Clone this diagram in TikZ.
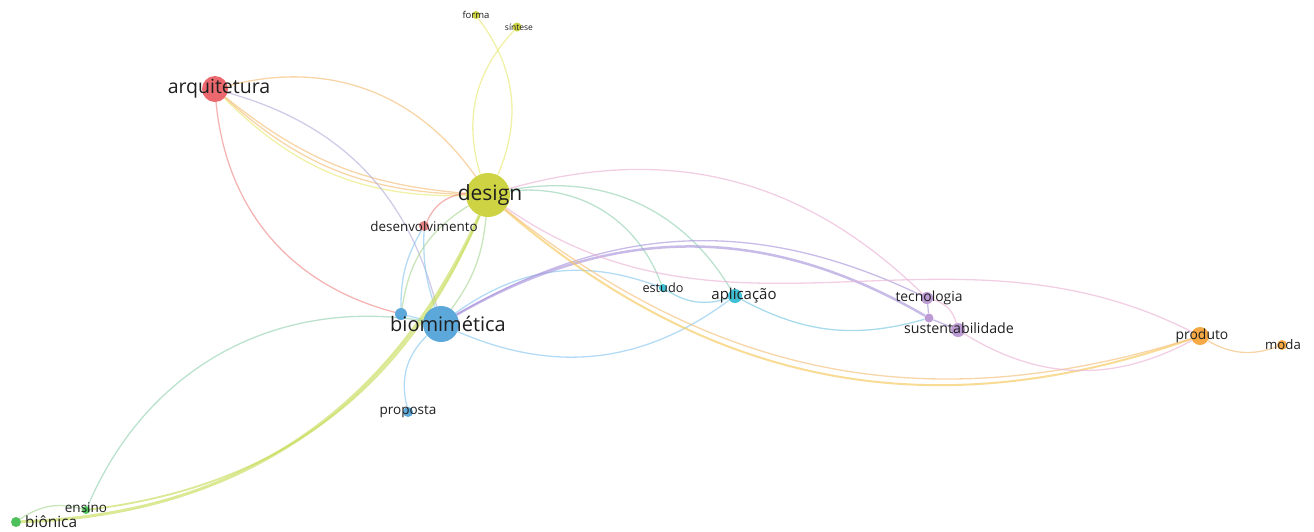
\documentclass[tikz,border=0pt]{standalone}
\usepackage{fontspec}
\setmainfont{Open Sans}
\usetikzlibrary{backgrounds}

\definecolor{cdesign}{RGB}{200,206,45}
\definecolor{carq}{RGB}{232,88,94}
\definecolor{cbio}{RGB}{74,158,214}
\definecolor{capl}{RGB}{42,184,207}
\definecolor{ctec}{RGB}{181,143,207}
\definecolor{cprod}{RGB}{245,160,48}
\definecolor{cbion}{RGB}{60,186,74}
\definecolor{cdes}{RGB}{226,120,120}
% edge colours
\definecolor{cyel}{RGB}{232,232,120}
\definecolor{corg}{RGB}{245,190,120}
\definecolor{cred}{RGB}{240,140,140}
\definecolor{clav}{RGB}{185,175,220}
\definecolor{cblue}{RGB}{140,200,240}
\definecolor{cgreen}{RGB}{170,215,150}
\definecolor{cyg}{RGB}{200,220,90}
\definecolor{ccyan}{RGB}{120,200,225}
\definecolor{cteal}{RGB}{150,210,180}
\definecolor{cpurp}{RGB}{170,150,220}
\definecolor{cpink}{RGB}{235,180,215}
\definecolor{cyo}{RGB}{245,200,90}

\tikzset{
	kw/.style={circle, inner sep=0pt, minimum size=#1, fill opacity=0.9, draw=none},
	lbl/.style={font=\fontsize{#1}{#1}\selectfont, text=black!88, inner sep=0pt},
	edge/.style={line width=1.3pt, draw opacity=0.65},
}

\begin{document}
\begin{tikzpicture}[x=1pt, y=1pt]
			%%%%% START %%%%%
			\useasboundingbox (0,0) rectangle (1314,-531);
			
			\node[kw=44pt, fill=cdesign] (design) at (488,-195) {};
			\node[kw=8pt, fill=cdesign] (forma) at (476,-15) {};
			\node[kw=9pt, fill=cdesign] (sintese) at (517,-27) {};
			
			\node[kw=26pt, fill=carq] (arquitetura) at (215,-89) {};
			\node[kw=10pt, fill=cdes] (desenvolvimento) at (424,-226) {};
			
			\node[kw=36pt, fill=cbio] (biomimetica) at (441,-324) {};
			\node[kw=12pt, fill=cbio] (biosmall) at (401,-314) {};
			\node[kw=10pt, fill=cbio] (proposta) at (408,-412) {};
			
			\node[kw=8pt, fill=capl] (estudo) at (663,-288) {};
			\node[kw=14pt, fill=capl] (aplicacao) at (735,-296) {};
			
			\node[kw=12pt, fill=ctec] (tecnologia) at (927,-298) {};
			\node[kw=9pt, fill=ctec] (tecsmall) at (929,-318) {};
			\node[kw=14pt, fill=ctec] (sustentabilidade) at (958,-330) {};
			
			\node[kw=18pt, fill=cprod] (produto) at (1200,-336) {};
			\node[kw=10pt, fill=cprod] (moda) at (1282,-345) {};
			
			\node[kw=8pt, fill=cbion] (ensino) at (86,-510) {};
			\node[kw=10pt, fill=cbion] (bionica) at (16,-522) {};
			
			% labels
			\node[lbl=21] (design-t) at ([xshift=2pt]design) {design};
			\node[lbl=9.5] (forma-t) at (forma) {forma};
			\node[lbl=8.5] (sintese-t) at ([xshift=2pt]sintese) {síntese};
			\node[lbl=19.5] (arquitetura-t) at ([xshift=4pt]arquitetura) {arquitetura};
			\node[lbl=13.4] (desenvolvimento-t) at (desenvolvimento) {desenvolvimento};
			\node[lbl=20] (biomimetica-t) at ([xshift=7pt]biomimetica) {biomimética};
			\node[lbl=13.5] (proposta-t) at (proposta) {proposta};
			\node[lbl=12.7] (estudo-t) at (estudo) {estudo};
			\node[lbl=15] (aplicacao-t) at ([xshift=9pt]aplicacao) {aplicação};
			\node[lbl=13.9] (tecnologia-t) at ([xshift=2pt]tecnologia) {tecnologia};
			\node[lbl=14.2] (sustentabilidade-t) at ([xshift=1pt,yshift=2pt]sustentabilidade) {sustentabilidade};
			\node[lbl=13.9] (produto-t) at ([xshift=2pt]produto) {produto};
			\node[lbl=13.2] (moda-t) at ([xshift=1pt]moda) {moda};
			\node[lbl=13.5] (ensino-t) at ([yshift=2pt]ensino) {ensino};
			\node[lbl=15.4, anchor=west] (bionica-t) at ([xshift=9pt]bionica) {biônica};
			
			\begin{scope}[on background layer]
			% design
			\draw[edge, cyel] (design) to[bend right=30] (forma);
			\draw[edge, cyel] (design) to[bend left=30] (sintese);
			
			% arquitetura
			\draw[edge, corg] (arquitetura) to[bend right=17] (design);
			\draw[edge, corg] (arquitetura) to[bend right=20] (design);
			\draw[edge, cyel] (arquitetura) to[bend right=23] (design);
			\draw[edge, corg] (arquitetura) to[bend left=35] (design);
			\draw[edge, cred] (arquitetura) to[bend right=35] (biosmall);
			\draw[edge, clav] (arquitetura) to[bend left=30] (biomimetica);
			
			% desenvolvimento
			\draw[edge, cred] (design) to[bend right=30] (desenvolvimento);
			\draw[edge, cblue] (desenvolvimento) to[bend right=10] (biomimetica);
			\draw[edge, cblue] (desenvolvimento) to[bend right=15] (biosmall);
			\draw[edge, cgreen] (design) to[bend left=15] (biomimetica);
			\draw[edge, cgreen] (design) to[bend right=25] (biosmall);
			\draw[edge, cblue] (biosmall) -- (biomimetica);
			
			% biônica / ensino
			\draw[edge, line width=3pt, cyg] (design) to[bend left=32] (bionica);
			\draw[edge, line width=1.8pt, cyg] (design) to[bend left=30] (ensino);
			\draw[edge, cteal] (biomimetica) to[bend right=38] (ensino);
			\draw[edge, cgreen] (bionica) to[bend left=25] (ensino);
			
			% biomimética
			\draw[edge, cblue] (biomimetica) to[bend right=30] (proposta);
			\draw[edge, cblue] (biomimetica) to[bend left=28] (estudo);
			\draw[edge, cblue] (biomimetica) to[bend right=30] (aplicacao);
			\draw[edge, ccyan] (estudo) to[bend right=25] (aplicacao);
			\draw[edge, cteal] (design) to[bend left=38] (estudo);
			\draw[edge, cteal] (design) to[bend left=35] (aplicacao);
			\draw[edge, ccyan] (aplicacao) to[bend right=22] (tecsmall);
			\draw[edge, line width=2.5pt, cpurp] (biomimetica) to[bend left=30] (tecsmall);
			\draw[edge, cpurp] (biomimetica) to[bend left=28] (tecnologia);
			
			% tecnologia / produto
			\draw[edge, cpink] (design) to[bend left=30] (tecnologia);
			\draw[edge, cpink] (design) to[out=-35, in=153] (produto);
			\draw[edge, line width=2pt, cyo] (design) to[bend right=30] (produto);
			\draw[edge, corg] (design) to[bend right=28] (produto);
			\draw[edge, cpink] (sustentabilidade) to[bend right=30] (produto);
			\draw[edge, cpink] (tecnologia) to[bend left=30] (sustentabilidade);
			\draw[edge, cpurp] (tecnologia) -- (tecsmall);
			\draw[edge, cpurp] (tecsmall) -- (sustentabilidade);
			\draw[edge, corg] (produto) to[bend right=25] (moda);
			\end{scope}
			
			%%%%% END %%%%%
\end{tikzpicture}
\end{document}
